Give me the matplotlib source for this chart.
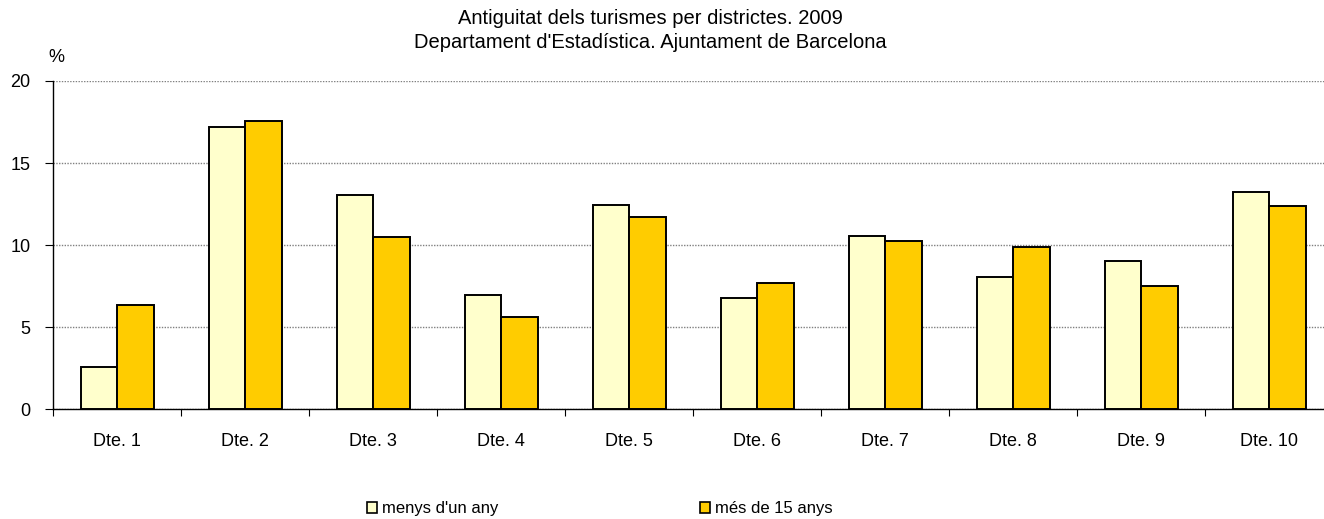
import matplotlib
matplotlib.use('Agg')
import matplotlib.pyplot as plt
import matplotlib.patches as mpatches
import numpy as np

plt.rcParams['font.family'] = ['Liberation Sans', 'DejaVu Sans']

# data
districtes = ['Dte. 1', 'Dte. 2', 'Dte. 3', 'Dte. 4', 'Dte. 5',
              'Dte. 6', 'Dte. 7', 'Dte. 8', 'Dte. 9', 'Dte. 10']
menys_un_any = [2.55, 17.2, 13.07, 6.95, 12.46, 6.81, 10.58, 8.04, 9.06, 13.21]
mes_15_anys = [6.38, 17.59, 10.47, 5.61, 11.71, 7.70, 10.23, 9.89, 7.54, 12.38]
yticks = [0, 5, 10, 15, 20]

c_light = '#FFFFCC'
c_dark = '#FFCC00'

fig = plt.figure(figsize=(13.24, 5.19), dpi=100)
ax = fig.add_axes([53.3/1324, 109.7/519, 1280/1324, 328.3/519])

x = np.arange(len(districtes))
w = 0.285
ax.bar(x - w/2, menys_un_any, w, color=c_light, edgecolor='black', linewidth=1.4, zorder=3)
ax.bar(x + w/2, mes_15_anys, w, color=c_dark, edgecolor='black', linewidth=1.4, zorder=3)

ax.set_xlim(-0.5, len(districtes) - 0.5)
ax.set_ylim(0, 20)
ax.set_yticks(yticks)
ax.set_yticklabels([str(v) for v in yticks], fontsize=13)
ax.set_xticks(x)
ax.set_xticklabels(districtes, fontsize=13)
ax.tick_params(axis='x', length=0, pad=17)
ax.set_xticks(np.arange(len(districtes) + 1) - 0.5, minor=True)
ax.tick_params(axis='x', which='minor', length=5, width=0.8, direction='out')
ax.tick_params(axis='y', length=6, width=0.8, direction='out', pad=10.5)

ax.yaxis.grid(True, linestyle=(0, (1, 1)), color='#808080', linewidth=1.0, zorder=0)
for s in ['top', 'right']:
    ax.spines[s].set_visible(False)
ax.spines['left'].set_linewidth(1.0)
ax.spines['bottom'].set_linewidth(1.0)

fig.text(650/1324, 1 - 19/519, 'Antiguitat dels turismes per districtes. 2009',
         ha='center', va='center', fontsize=14.5)
fig.text(650/1324, 1 - 42/519, "Departament d'Estadística. Ajuntament de Barcelona",
         ha='center', va='center', fontsize=14.5)
fig.text(56/1324, 1 - 58/519, '%', ha='center', va='center', fontsize=13)

h1 = mpatches.Patch(facecolor=c_light, edgecolor='black', linewidth=1.2)
h2 = mpatches.Patch(facecolor=c_dark, edgecolor='black', linewidth=1.2)
for h, lab, xs in [(h1, "menys d'un any", 367), (h2, 'més de 15 anys', 700)]:
    fig.legend([h], [lab], loc='center left', bbox_to_anchor=(xs/1324, 1 - 509/519),
               frameon=False, fontsize=12, handlelength=0.6, handleheight=0.6,
               handletextpad=0.3, borderpad=0, borderaxespad=0)

fig.savefig('out.png', dpi=100)
